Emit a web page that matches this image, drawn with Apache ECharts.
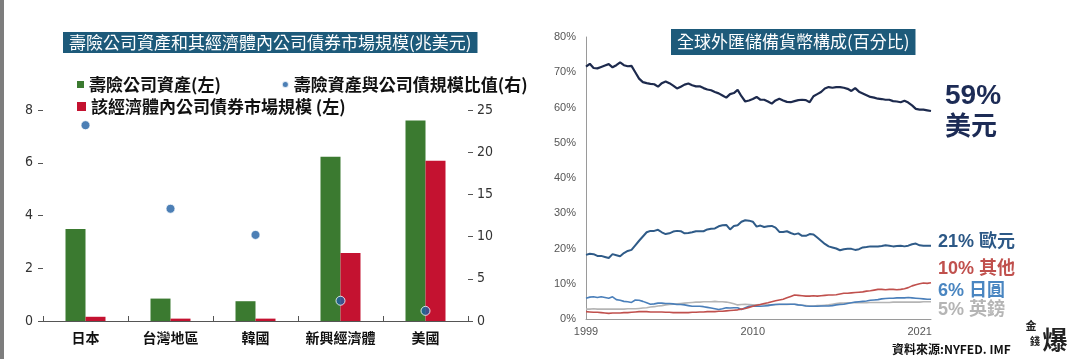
<!DOCTYPE html>
<html><head><meta charset="utf-8">
<script src="https://cdn.jsdelivr.net/npm/echarts@6/dist/echarts.min.js"></script>
<style>html,body{margin:0;padding:0;background:#fff}#c{width:1074px;height:359px}</style>
</head><body><div id="c"></div>
<script>
// ---------- Left chart data ----------
const leftCategories = ['日本', '台灣地區', '韓國', '新興經濟體', '美國'];
const lifeAssets = [3.49, 0.85, 0.75, 6.23, 7.6];          // 壽險公司資產(左)
const bondMarket = [0.16, 0.09, 0.09, 2.58, 6.08];          // 該經濟體內公司債券市場規模 (左)
const assetBondRatio = [23.2, 13.3, 10.2, 2.4, 1.2];       // 壽險資產與公司債規模比值(右)

// ---------- Right chart data (quarterly, 1999Q1 - 2021Q4) ----------
const startYear = 1999, endYear = 2021;
const rightXTickYears = ['1999', '2010', '2021'];
const usd = [
 71.6,72.4,71.2,71.1, 71.5,71.9,72.3,71.4, 72.0,72.8,72.0,71.7,
 71.8,70.0,68.2,67.2, 66.9,66.7,66.6,65.9, 66.9,67.4,66.9,66.2,
 65.4,65.9,66.5,66.8, 66.3,66.0,66.0,65.5, 65.1,64.9,64.4,64.0,
 63.4,62.8,63.8,64.1, 65.0,63.2,61.7,62.0, 62.4,63.0,62.2,62.2,
 61.7,61.1,62.0,62.5, 62.0,61.6,61.5,61.8, 62.1,62.2,62.1,61.5,
 63.2,63.8,64.4,65.4, 65.8,65.6,65.8,65.8, 65.6,65.3,64.7,65.5,
 64.5,64.0,63.5,63.0, 62.8,62.5,62.4,62.2, 62.2,61.8,61.7,61.5,
 61.9,61.4,60.6,59.6, 59.4,59.4,59.2,59.0];
const eur = [
 18.2,18.5,18.4,17.9, 17.9,17.6,17.3,18.4, 18.1,17.8,18.7,19.3,
 19.6,20.9,22.2,23.4, 24.6,25.0,25.0,25.3, 24.6,24.1,24.3,24.8,
 25.0,24.9,24.3,24.4, 24.6,24.9,24.9,24.9, 25.4,25.6,25.7,26.3,
 26.6,26.7,25.4,26.4, 26.6,27.6,28.0,27.9, 27.6,26.2,26.5,26.1,
 26.3,26.4,25.9,24.7, 24.7,24.9,24.4,24.0, 24.3,23.6,23.6,24.1,
 24.0,23.1,22.2,21.3, 20.6,20.3,20.0,19.5, 19.8,19.9,19.9,19.6,
 19.8,20.3,20.4,20.6, 20.6,20.6,20.7,20.9, 20.8,20.6,20.7,20.8,
 20.6,20.8,21.2,21.4, 20.9,20.8,20.8,20.8];
const other = [
 2.1,2.0,1.9,1.9, 1.8,1.7,1.6,1.7, 1.7,1.7,1.8,1.8,
 1.9,2.0,2.1,2.1, 2.1,2.0,2.0,2.0, 2.0,1.9,1.9,1.8,
 1.8,1.8,1.8,1.8, 1.9,1.9,2.0,2.0, 2.1,2.1,2.1,2.2,
 2.2,2.3,2.4,2.5, 2.6,2.8,3.0,3.3, 3.6,3.9,4.1,4.4,
 4.6,4.9,5.2,5.4, 5.6,6.0,6.4,6.8, 6.7,6.6,6.5,6.5,
 6.6,6.5,6.6,6.7, 6.8,6.8,6.9,7.1, 7.3,7.3,7.4,7.5,
 7.6,7.7,7.9,8.0, 8.2,8.4,8.4,8.3, 8.4,8.4,8.3,8.4,
 8.6,8.9,9.4,9.7, 10.0,10.2,10.1,10.3];
const jpy = [
 5.9,6.2,6.3,6.1, 6.3,6.1,5.9,6.3, 5.5,5.3,5.0,4.9,
 4.7,5.4,5.3,5.0, 4.6,4.2,4.3,4.5, 4.5,4.4,4.4,4.3,
 4.1,4.1,4.0,3.8, 3.6,3.6,3.6,3.5, 3.3,3.1,2.9,2.7,
 2.9,3.2,3.1,3.2, 3.2,2.7,3.2,3.6, 3.7,3.6,3.6,3.7,
 3.8,4.0,4.1,4.2, 4.2,4.2,4.2,4.2, 4.0,3.9,3.7,3.6,
 3.6,3.6,3.7,3.7, 3.7,3.8,4.0,4.1, 4.2,4.4,4.6,4.8,
 4.9,5.0,5.1,5.3, 5.4,5.5,5.7,5.8, 5.9,5.9,6.0,6.0,
 6.0,6.1,6.0,5.9, 5.8,5.7,5.6,5.6];
const gbp = [
 2.8,2.8,2.9,2.8, 2.8,2.8,2.8,2.8, 2.8,2.8,2.8,2.9,
 2.9,2.9,3.0,3.1, 3.2,3.4,3.5,3.7, 3.8,4.0,4.1,4.2,
 4.3,4.4,4.5,4.6, 4.7,4.8,4.8,4.9, 4.9,4.9,5.0,4.9,
 4.9,4.8,4.6,4.3, 4.0,4.1,4.2,4.1, 4.0,4.0,4.1,4.1,
 4.0,4.0,4.1,4.1, 4.1,4.1,4.2,4.2, 4.0,3.9,3.8,3.7,
 3.7,3.8,3.8,3.9, 4.0,4.2,4.4,4.5, 4.5,4.6,4.6,4.6,
 4.6,4.6,4.6,4.7, 4.7,4.7,4.7,4.7, 4.7,4.8,4.8,4.8,
 4.8,4.8,4.8,4.8, 4.8,4.9,4.9,4.9];

const quarters = [];
for (let y = startYear; y <= endYear; y++) for (let q = 1; q <= 4; q++) quarters.push(y + 'Q' + q);

const CJK = "'Noto Sans CJK TC','Noto Sans CJK SC',sans-serif";
const NARROW = "'Liberation Sans Narrow','DejaVu Sans Condensed','Liberation Sans',sans-serif";
const NARROW_CJK = "'Liberation Sans Narrow','Noto Sans CJK TC',sans-serif";
const LAT = "'Liberation Sans','Noto Sans CJK TC',sans-serif";

const chart = echarts.init(document.getElementById('c'), null, {renderer: 'canvas'});
chart.setOption({
  backgroundColor: '#ffffff',
  animation: false,
  title: [
    {text: '壽險公司資產和其經濟體內公司債券市場規模(兆美元)', left: 63, top: 32,
     backgroundColor: '#1d5a7a', padding: [1, 6],
     textStyle: {color: '#fff', fontSize: 17, fontWeight: 'normal', lineHeight: 19, fontFamily: CJK}},
    {text: '全球外匯儲備貨幣構成(百分比)', left: 671, top: 29,
     backgroundColor: '#1d5a7a', padding: [4, 6],
     textStyle: {color: '#fff', fontSize: 17, fontWeight: 'normal', lineHeight: 18, fontFamily: CJK}}
  ],
  legend: [
    {left: 72, top: 71, itemGap: 60, itemWidth: 7, itemHeight: 7,
     textStyle: {fontSize: 17, fontWeight: 'bold', color: '#111', fontFamily: CJK, lineHeight: 17},
     data: [{name: '壽險公司資產(左)', icon: 'rect'}, {name: '壽險資產與公司債規模比值(右)', icon: 'circle'}]},
    {left: 72, top: 93, itemWidth: 9, itemHeight: 9,
     textStyle: {fontSize: 17, fontWeight: 'bold', color: '#111', fontFamily: CJK, lineHeight: 17},
     data: [{name: '該經濟體內公司債券市場規模 (左)', icon: 'rect'}]}
  ],
  grid: [
    {left: 43, top: 110, width: 425, height: 211},
    {left: 586, top: 37, width: 345, height: 282}
  ],
  xAxis: [
    {type: 'category', gridIndex: 0, data: leftCategories,
     axisLine: {lineStyle: {color: '#555', width: 1}},
     axisTick: {show: true, inside: true, length: 5, lineStyle: {color: '#555'}},
     axisLabel: {interval: 0, color: '#111', fontSize: 14, fontWeight: 'bold', fontFamily: CJK, margin: 10}},
    {type: 'category', gridIndex: 1, data: quarters, boundaryGap: false,
     axisLine: {lineStyle: {color: '#9a9a9a', width: 1}},
     axisTick: {show: false},
     axisLabel: {color: '#555', fontSize: 11, fontFamily: LAT, margin: 7,
       interval: function (idx, val) { return val.slice(4) === 'Q1' && rightXTickYears.indexOf(val.slice(0, 4)) >= 0; },
       formatter: function (val) { return val.slice(0, 4); }}}
  ],
  yAxis: [
    {type: 'value', gridIndex: 0, min: 0, max: 8, interval: 2, position: 'left',
     axisLine: {show: false}, splitLine: {show: false},
     axisTick: {show: true, length: 5, lineStyle: {color: '#555'}},
     axisLabel: {color: '#333', fontSize: 14, fontFamily: NARROW, margin: 10}},
    {type: 'value', gridIndex: 0, min: 0, max: 25, interval: 5, position: 'right',
     axisLine: {show: false}, splitLine: {show: false},
     axisTick: {show: true, length: 5, lineStyle: {color: '#555'}},
     axisLabel: {color: '#333', fontSize: 14, fontFamily: NARROW, margin: 9}},
    {type: 'value', gridIndex: 1, min: 0, max: 80, interval: 10,
     axisLine: {show: true, lineStyle: {color: '#9a9a9a'}}, splitLine: {show: false},
     axisTick: {show: false},
     axisLabel: {color: '#555', fontSize: 11, fontFamily: LAT, margin: 10, formatter: '{value}%'}}
  ],
  series: [
    {name: '壽險公司資產(左)', type: 'bar', xAxisIndex: 0, yAxisIndex: 0, data: lifeAssets,
     barWidth: 20, barGap: '0%', itemStyle: {color: '#3b7a30'}},
    {name: '該經濟體內公司債券市場規模 (左)', type: 'bar', xAxisIndex: 0, yAxisIndex: 0, data: bondMarket,
     barWidth: 20, barGap: '0%', itemStyle: {color: '#c41230'}},
    {name: '壽險資產與公司債規模比值(右)', type: 'scatter', xAxisIndex: 0, yAxisIndex: 1, data: assetBondRatio,
     symbolSize: 9, z: 5, itemStyle: {color: '#1f5fa3', borderColor: '#fff', borderWidth: 1}},
    {name: 'GBP', type: 'line', xAxisIndex: 1, yAxisIndex: 2, data: gbp, showSymbol: false,
     lineStyle: {color: '#b5b5b5', width: 1.6}},
    {name: 'JPY', type: 'line', xAxisIndex: 1, yAxisIndex: 2, data: jpy, showSymbol: false,
     lineStyle: {color: '#4a7fba', width: 1.6}},
    {name: 'Other', type: 'line', xAxisIndex: 1, yAxisIndex: 2, data: other, showSymbol: false,
     lineStyle: {color: '#c0504d', width: 1.6}},
    {name: 'EUR', type: 'line', xAxisIndex: 1, yAxisIndex: 2, data: eur, showSymbol: false,
     lineStyle: {color: '#2f5b88', width: 2}},
    {name: 'USD', type: 'line', xAxisIndex: 1, yAxisIndex: 2, data: usd, showSymbol: false,
     lineStyle: {color: '#1d2a4d', width: 2.2}}
  ],
  graphic: [
    {type: 'rect', left: 0, top: 0, shape: {width: 4, height: 359}, style: {fill: '#7d7d7d'}, silent: true},
    {type: 'text', style: {text: '59%', x: 945, y: 96, font: 'bold 28px ' + LAT, fill: '#1c2b55', textVerticalAlign: 'middle', verticalAlign: 'middle'}},
    {type: 'text', style: {text: '美元', x: 945, y: 125, font: 'bold 26px ' + CJK, fill: '#1c2b55', textVerticalAlign: 'middle', verticalAlign: 'middle'}},
    {type: 'text', style: {text: '21% 歐元', x: 938, y: 242, font: 'bold 18px ' + LAT, fill: '#2c5886', textVerticalAlign: 'middle', verticalAlign: 'middle'}},
    {type: 'text', style: {text: '10% 其他', x: 938, y: 269.5, font: 'bold 18px ' + LAT, fill: '#c0504d', textVerticalAlign: 'middle', verticalAlign: 'middle'}},
    {type: 'text', style: {text: '6% 日圓', x: 938, y: 291, font: 'bold 18px ' + LAT, fill: '#4a86c1', textVerticalAlign: 'middle', verticalAlign: 'middle'}},
    {type: 'text', style: {text: '5% 英鎊', x: 938, y: 310.5, font: 'bold 18px ' + LAT, fill: '#b5b5b5', textVerticalAlign: 'middle', verticalAlign: 'middle'}},
    {type: 'text', style: {text: '資料來源:NYFED. IMF', x: 892, y: 349, font: 'bold 12px ' + NARROW_CJK, fill: '#111', textVerticalAlign: 'middle', verticalAlign: 'middle'}},
    {type: 'text', style: {text: '金', x: 1031, y: 326, font: 'bold 11px ' + CJK, fill: '#222', textAlign: 'center', align: 'center', textVerticalAlign: 'middle', verticalAlign: 'middle'}},
    {type: 'text', style: {text: '錢', x: 1035, y: 341, font: 'bold 10px ' + CJK, fill: '#222', textAlign: 'center', align: 'center', textVerticalAlign: 'middle', verticalAlign: 'middle'}},
    {type: 'text', style: {text: '爆', x: 1055, y: 339, font: 'bold 25px ' + CJK, fill: '#222', textAlign: 'center', align: 'center', textVerticalAlign: 'middle', verticalAlign: 'middle'}}
  ]
});
</script>
</body></html>
